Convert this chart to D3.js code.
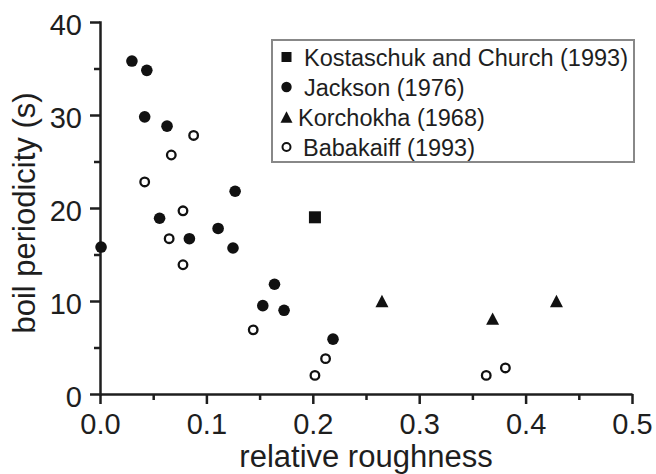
<!DOCTYPE html>
<html>
<head>
<meta charset="utf-8">
<title>boil periodicity vs relative roughness</title>
<script src="https://cdn.jsdelivr.net/npm/d3@7"></script>
<style>
body { margin: 0; background: #fff; }
svg text { font-family: "Liberation Sans", Arial, sans-serif; fill: #1e1e1e; }
.axis path, .axis line { stroke: #1e1e1e; stroke-width: 2.5px; }
</style>
</head>
<body>
<script>

var width = 656,
    height = 474;

// series: [relative roughness, boil periodicity]
var kostaschuk = [[0.202, 19]];
var jackson = [
  [0.001, 15.8], [0.030, 35.8], [0.044, 34.8], [0.042, 29.8], [0.063, 28.8],
  [0.056, 18.9], [0.084, 16.7], [0.111, 17.8], [0.127, 21.8], [0.125, 15.7],
  [0.164, 11.8], [0.153, 9.5], [0.173, 9.0], [0.219, 5.9]
];
var korchokha = [[0.265, 10], [0.369, 8.1], [0.429, 10]];
var babakaiff = [
  [0.088, 27.8], [0.067, 25.7], [0.042, 22.8], [0.078, 19.7], [0.065, 16.7],
  [0.078, 13.9], [0.144, 6.9], [0.212, 3.8], [0.202, 2.0], [0.363, 2.0], [0.381, 2.8]
];

var legendLabels = ["Kostaschuk and Church (1993)", "Jackson (1976)", "Korchokha (1968)", "Babakaiff (1993)"];
var xTicks = [0, 0.1, 0.2, 0.3, 0.4, 0.5];
var xMinor = [0.05, 0.15, 0.25, 0.35, 0.45];
var yTicks = [0, 10, 20, 30, 40];
var yMinor = [5, 15, 25, 35];

var x = d3.scaleLinear().domain([0, 0.5]).range([100, 632]);
var y = d3.scaleLinear().domain([0, 40]).range([394, 22]);

var svg = d3.select("body").append("svg")
    .attr("width", width)
    .attr("height", height);

// minor ticks first so the axis line sits over them
svg.append("g").attr("class", "axis")
    .attr("transform", "translate(0,394)")
    .call(d3.axisBottom(x).tickValues(xMinor).tickSize(6).tickFormat(""))
    .select(".domain").remove();
svg.append("g").attr("class", "axis")
    .attr("transform", "translate(100,0)")
    .call(d3.axisLeft(y).tickValues(yMinor).tickSize(6).tickFormat(""))
    .select(".domain").remove();

var xAxis = svg.append("g").attr("class", "axis")
    .attr("transform", "translate(0,394)")
    .call(d3.axisBottom(x).tickValues(xTicks).tickSize(10).tickSizeOuter(0).tickFormat(d3.format(".1f")));
xAxis.selectAll("text")
    .attr("y", 40).attr("dy", null)
    .style("font-size", "29px");

var yAxis = svg.append("g").attr("class", "axis")
    .attr("transform", "translate(100,0)")
    .call(d3.axisLeft(y).tickValues(yTicks).tickSize(10).tickSizeOuter(0));
yAxis.selectAll("text")
    .attr("x", -18).attr("dy", "0.42em")
    .style("font-size", "29px");
yAxis.selectAll(".domain").attr("stroke-linecap", "square");

// axis titles
svg.append("text")
    .attr("x", 366).attr("y", 467)
    .attr("text-anchor", "middle")
    .style("font-size", "31px")
    .text("relative roughness");

svg.append("text")
    .attr("transform", "translate(35,213) rotate(-90)")
    .attr("text-anchor", "middle")
    .style("font-size", "31px")
    .text("boil periodicity (s)");

// triangle centred on its bounding box
function tri(s) {
  var h = s * 0.95;
  return "M0," + (-h / 2) + "L" + (s / 2) + "," + (h / 2) + "L" + (-s / 2) + "," + (h / 2) + "Z";
}

var marks = svg.append("g");

marks.selectAll(".jack").data(jackson).enter().append("circle")
    .attr("cx", function(d) { return x(d[0]); })
    .attr("cy", function(d) { return y(d[1]); })
    .attr("r", 5.8)
    .attr("fill", "#111");

marks.selectAll(".baba").data(babakaiff).enter().append("circle")
    .attr("cx", function(d) { return x(d[0]); })
    .attr("cy", function(d) { return y(d[1]); })
    .attr("r", 4.3)
    .attr("fill", "#fff")
    .attr("stroke", "#111")
    .attr("stroke-width", 2.3);

marks.selectAll(".kost").data(kostaschuk).enter().append("rect")
    .attr("x", function(d) { return x(d[0]) - 6; })
    .attr("y", function(d) { return y(d[1]) - 6; })
    .attr("width", 12).attr("height", 12)
    .attr("fill", "#111");

marks.selectAll(".korc").data(korchokha).enter().append("path")
    .attr("transform", function(d) { return "translate(" + x(d[0]) + "," + y(d[1]) + ")"; })
    .attr("d", tri(13))
    .attr("fill", "#111");

// legend
var legend = svg.append("g");
legend.append("rect")
    .attr("x", 272).attr("y", 40)
    .attr("width", 362).attr("height", 122)
    .attr("fill", "#fff")
    .attr("stroke", "#888")
    .attr("stroke-width", 2);

var rowY = [57, 87, 117, 147];
var textX = [304, 304, 298, 303];

legend.append("rect").attr("x", 281.5).attr("y", rowY[0] - 5).attr("width", 10).attr("height", 10).attr("fill", "#111");
legend.append("circle").attr("cx", 286.5).attr("cy", rowY[1]).attr("r", 5.2).attr("fill", "#111");
legend.append("path").attr("transform", "translate(286.5," + rowY[2] + ")").attr("d", tri(12)).attr("fill", "#111");
legend.append("circle").attr("cx", 286.5).attr("cy", rowY[3]).attr("r", 4).attr("fill", "#fff")
    .attr("stroke", "#111").attr("stroke-width", 2);

legend.selectAll(".lab").data(legendLabels).enter().append("text")
    .attr("x", function(d, i) { return textX[i]; })
    .attr("y", function(d, i) { return rowY[i] + 8.5; })
    .style("font-size", "23.5px")
    .text(function(d) { return d; });

</script>
</body>
</html>
